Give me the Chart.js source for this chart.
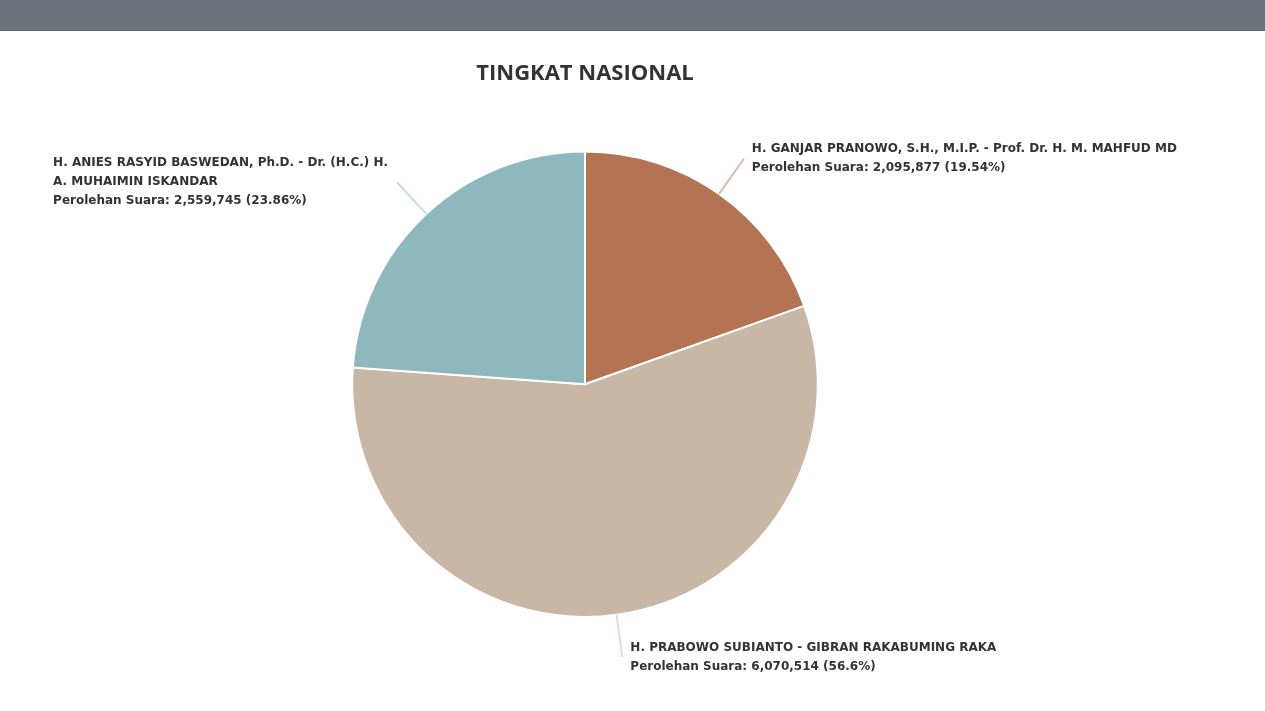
<!DOCTYPE html>
<html>
<head>
<meta charset="utf-8">
<title>Tingkat Nasional</title>
<script src="https://cdn.jsdelivr.net/npm/chart.js@4.4.1/dist/chart.umd.min.js"></script>
<style>
    html, body { margin: 0; padding: 0; background: #fff; }
    .topbar {
        height: 30px;
        background: #6c737d;
        border-bottom: 1px solid #5b616a;
        box-shadow: 0 1px 1px #e2e4e6;
    }
    #wrap { position: absolute; left: 0; top: 31px; width: 1265px; height: 680px; }
</style>
</head>
<body>
<div class="topbar"></div>
<div id="wrap"><canvas id="suara" width="1265" height="680"></canvas></div>
<script>
//Datos
const kandidat = [
    'H. GANJAR PRANOWO, S.H., M.I.P. - Prof. Dr. H. M. MAHFUD MD',
    'H. PRABOWO SUBIANTO - GIBRAN RAKABUMING RAKA',
    'H. ANIES RASYID BASWEDAN, Ph.D. - Dr. (H.C.) H. A. MUHAIMIN ISKANDAR'
];
const suara = [2095877, 6070514, 2559745];
const warna = ['rgb(180, 115, 82)', 'rgb(200, 183, 164)', 'rgb(143, 184, 190)'];
const warnaGaris = ['rgba(180, 115, 82, 0.5)', 'rgba(200, 183, 164, 0.5)', 'rgba(143, 184, 190, 0.5)'];

const total = suara.reduce((a, b) => a + b, 0);
const persen = suara.map(v => parseFloat((v / total * 100).toFixed(2)));

/**
 * Parte el texto en líneas que quepan en el ancho dado
 */
function wrap(ctx, text, maxW) {
    const words = text.split(' ');
    const lines = [];
    let cur = '';
    words.forEach(w => {
        const test = cur ? cur + ' ' + w : w;
        if (ctx.measureText(test).width > maxW && cur) {
            lines.push(cur);
            cur = w;
        } else {
            cur = test;
        }
    });
    if (cur) lines.push(cur);
    return lines;
}

//Plugin de etiquetas con líneas guía
const labelPlugin = {
    id: 'labelGaris',
    afterDatasetsDraw(chart) {
        const ctx = chart.ctx;
        const meta = chart.getDatasetMeta(0);
        ctx.save();
        ctx.font = 'bold 12px "DejaVu Sans", Verdana, sans-serif';
        ctx.fillStyle = '#333';
        ctx.textBaseline = 'middle';
        meta.data.forEach((arc, i) => {
            const p = arc.getProps(['x', 'y', 'startAngle', 'endAngle', 'outerRadius'], true);
            const mid = (p.startAngle + p.endAngle) / 2;
            const x1 = p.x + Math.cos(mid) * p.outerRadius;
            const y1 = p.y + Math.sin(mid) * p.outerRadius;
            const x2 = p.x + Math.cos(mid) * (p.outerRadius + 43);
            const y2 = p.y + Math.sin(mid) * (p.outerRadius + 43);
            ctx.strokeStyle = warnaGaris[i];
            ctx.lineWidth = 2;
            ctx.beginPath();
            ctx.moveTo(x1, y1);
            ctx.lineTo(x2, y2);
            ctx.stroke();

            const kiri = Math.cos(mid) < 0;
            const lineH = 19;
            let lines;
            let tx;
            if (kiri) {
                lines = wrap(ctx, kandidat[i], x2 - 9 - 40);
            } else {
                lines = wrap(ctx, kandidat[i], chart.width - 40 - x2);
            }
            lines.push('Perolehan Suara: ' + suara[i].toLocaleString('en-US') + ' (' + persen[i] + '%)');
            const maxW = Math.max(...lines.map(l => ctx.measureText(l).width));
            tx = kiri ? x2 - 9 - maxW : x2 + 8;
            ctx.textAlign = 'left';
            lines.forEach((l, j) => {
                ctx.fillText(l, tx, y2 + (j - (lines.length - 1) / 2) * lineH);
            });
        });
        ctx.restore();
    }
};

const grafik = new Chart(document.getElementById('suara').getContext('2d'), {
    type: 'pie',
    data: {
        labels: kandidat,
        datasets: [{
            data: suara,
            backgroundColor: warna,
            borderColor: '#fff',
            borderWidth: 2
        }]
    },
    options: {
        responsive: false,
        animation: false,
        layout: {
            padding: { top: 0, bottom: 93, left: 0, right: 95 }
        },
        plugins: {
            legend: { display: false },
            tooltip: { enabled: false },
            title: {
                display: true,
                text: 'TINGKAT NASIONAL',
                color: '#333',
                font: { family: '"Open Sans", sans-serif', size: 22, weight: 'bold' },
                padding: { top: 30, bottom: 63 }
            }
        }
    },
    plugins: [labelPlugin]
});
</script>
</body>
</html>
